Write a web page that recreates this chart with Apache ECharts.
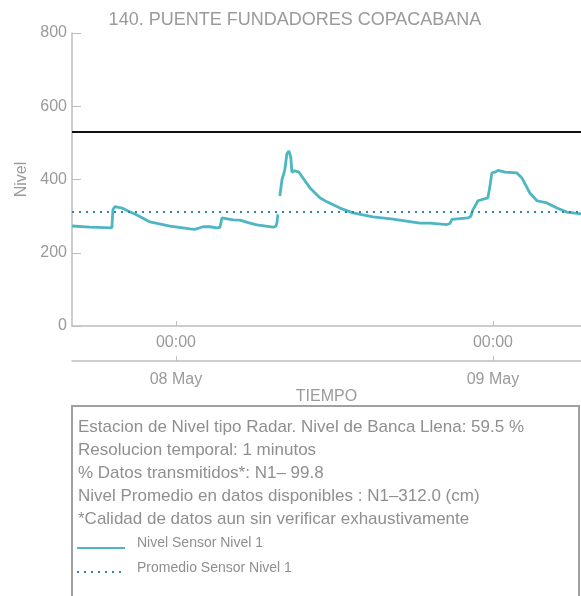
<!DOCTYPE html>
<html>
<head>
<meta charset="utf-8">
<script src="https://cdn.jsdelivr.net/npm/echarts@6/dist/echarts.min.js"></script>
<style>
  html, body { margin: 0; padding: 0; background: #fff; }
  #chart { width: 581px; height: 596px; }
</style>
</head>
<body>
<div id="chart"></div>
<script>
// nivel sensor 1 (cm)
var tiempo = [
  '2024-05-07 16:08', '2024-05-07 17:29', '2024-05-07 19:09', '2024-05-07 19:14', '2024-05-07 19:23',
  '2024-05-07 19:32', '2024-05-07 19:55', '2024-05-07 20:22', '2024-05-07 21:03', '2024-05-07 22:02',
  '2024-05-07 23:33', '2024-05-08 01:04', '2024-05-08 01:26', '2024-05-08 02:03', '2024-05-08 02:34',
  '2024-05-08 03:06', '2024-05-08 03:20', '2024-05-08 03:29', '2024-05-08 04:19', '2024-05-08 04:51',
  '2024-05-08 05:36', '2024-05-08 06:08', '2024-05-08 07:21', '2024-05-08 07:34', '2024-05-08 07:39',
  '2024-05-08 07:43', '2024-05-08 07:47', '2024-05-08 07:52', '2024-05-08 08:02', '2024-05-08 08:11',
  '2024-05-08 08:15', '2024-05-08 08:24', '2024-05-08 08:33', '2024-05-08 08:42', '2024-05-08 08:47',
  '2024-05-08 09:00', '2024-05-08 09:19', '2024-05-08 09:37', '2024-05-08 10:09', '2024-05-08 10:54',
  '2024-05-08 11:26', '2024-05-08 12:25', '2024-05-08 13:24', '2024-05-08 14:55', '2024-05-08 16:26',
  '2024-05-08 18:28', '2024-05-08 19:14', '2024-05-08 20:31', '2024-05-08 20:45', '2024-05-08 20:54',
  '2024-05-08 22:07', '2024-05-08 22:20', '2024-05-08 22:29', '2024-05-08 22:52', '2024-05-08 23:37',
  '2024-05-08 23:46', '2024-05-08 23:55', '2024-05-09 00:09', '2024-05-09 00:23', '2024-05-09 00:55',
  '2024-05-09 01:49', '2024-05-09 02:12', '2024-05-09 02:48', '2024-05-09 03:20', '2024-05-09 04:05',
  '2024-05-09 04:51', '2024-05-09 05:36', '2024-05-09 06:12', '2024-05-09 06:40'
];
var nivel = [
  273, 270, 268, 318, 326,
  328, 322, 314, 303, 284,
  273, 265, 264, 271, 271,
  268, 269, 295, 290, 289,
  281, 276, 270, 272, 282,
  305, null, 355, 400, 418,
  428, 470, 478, 460, 420,
  424, 420, 404, 377, 350,
  339, 322, 309, 298, 292,
  281, 281, 277, 280, 291,
  295, 300, 317, 342, 350,
  380, 418, 420, 425, 420,
  418, 404, 363, 342, 336,
  322, 311, 308, 306
];
var promedio = 312;      // nivel promedio N1
var bancaLlena = 530;    // nivel de banca llena
var yTicks = [0, 200, 400, 600, 800];
var tMin = '2024-05-07 16:08';
var tMax = '2024-05-09 06:40';

var infoLines = [
  'Estacion de Nivel tipo Radar. Nivel de Banca Llena: 59.5 %',
  'Resolucion temporal: 1 minutos',
  '% Datos transmitidos*: N1\u2013 99.8',
  'Nivel Promedio en datos disponibles : N1\u2013312.0 (cm)',
  '*Calidad de datos aun sin verificar exhaustivamente'
];

var gris = '#bdbdbd';
var textoGris = '#9a9a9a';
var fuente = 'Liberation Sans, Arial, sans-serif';
var DAY = 24 * 3600 * 1000;

var chart = echarts.init(document.getElementById('chart'), null, { renderer: 'canvas' });

var graphics = [{
  type: 'rect',
  shape: { x: 72, y: 406, width: 507, height: 200 },
  style: { fill: '#fff', stroke: '#a0a0a0', lineWidth: 2 }
}];
infoLines.forEach(function (t, i) {
  graphics.push({
    type: 'text', x: 78, y: 427 + i * 23,
    style: { text: t, fill: '#8f8f8f', font: '17px ' + fuente, textVerticalAlign: 'middle' }
  });
});
graphics.push(
  { type: 'line', shape: { x1: 77, y1: 548, x2: 125, y2: 548 }, style: { stroke: '#4db6c3', lineWidth: 2 } },
  { type: 'text', x: 137, y: 543, style: { text: 'Nivel Sensor Nivel 1', fill: '#8f8f8f', font: '14px ' + fuente, textVerticalAlign: 'middle' } },
  { type: 'line', shape: { x1: 77, y1: 572, x2: 125, y2: 572 }, style: { stroke: '#2e86a8', lineWidth: 2, lineDash: [2, 5] } },
  { type: 'text', x: 137, y: 568, style: { text: 'Promedio Sensor Nivel 1', fill: '#8f8f8f', font: '14px ' + fuente, textVerticalAlign: 'middle' } }
);

var xBase = {
  type: 'time',
  min: tMin,
  max: tMax,
  minInterval: DAY,
  maxInterval: DAY,
  position: 'bottom',
  axisLine: { lineStyle: { color: gris, width: 1.5 } },
  axisTick: { inside: true, length: 5, lineStyle: { color: gris } },
  splitLine: { show: false },
  axisLabel: { color: textoGris, fontSize: 16, fontFamily: fuente, showMinLabel: false, showMaxLabel: false }
};

chart.setOption({
  animation: false,
  textStyle: { fontFamily: fuente },
  title: {
    text: '140. PUENTE FUNDADORES COPACABANA',
    left: 290, top: 6, textAlign: 'center',
    textStyle: { color: textoGris, fontSize: 18, fontWeight: 'normal', fontFamily: fuente }
  },
  grid: { left: 72, right: 0, top: 33, bottom: 270, containLabel: false },
  xAxis: [
    Object.assign({}, xBase, {
      axisLabel: Object.assign({}, xBase.axisLabel, { margin: 9, formatter: '{HH}:{mm}' })
    }),
    Object.assign({}, xBase, {
      offset: 35,
      name: 'TIEMPO', nameLocation: 'middle', nameGap: 27,
      nameTextStyle: { color: textoGris, fontSize: 16, fontFamily: fuente },
      axisLabel: Object.assign({}, xBase.axisLabel, { margin: 11, formatter: '{dd} {MMM}' })
    })
  ],
  yAxis: {
    type: 'value',
    min: yTicks[0], max: yTicks[yTicks.length - 1], interval: 200,
    name: 'Nivel', nameLocation: 'middle', nameGap: 40, nameRotate: 90,
    nameTextStyle: { color: textoGris, fontSize: 16, fontFamily: fuente },
    axisLine: { show: true, lineStyle: { color: gris, width: 1.5 } },
    axisTick: { show: true, inside: true, length: 9, lineStyle: { color: gris } },
    splitLine: { show: false },
    axisLabel: { color: textoGris, fontSize: 16, margin: 5, fontFamily: fuente }
  },
  graphic: graphics,
  series: [{
    name: 'Nivel Sensor Nivel 1',
    type: 'line',
    xAxisIndex: 0,
    data: tiempo.map(function (t, i) { return [t, nivel[i]]; }),
    showSymbol: false,
    connectNulls: false,
    lineStyle: { color: '#4db6c3', width: 2.8 },
    itemStyle: { color: '#4db6c3' },
    markLine: {
      silent: true,
      symbol: 'none',
      label: { show: false },
      data: [
        { yAxis: bancaLlena, lineStyle: { color: '#111', width: 2, type: 'solid' } },
        { yAxis: promedio, lineStyle: { color: '#2e86a8', width: 2, type: [2, 5] } }
      ]
    }
  }]
});
</script>
</body>
</html>
